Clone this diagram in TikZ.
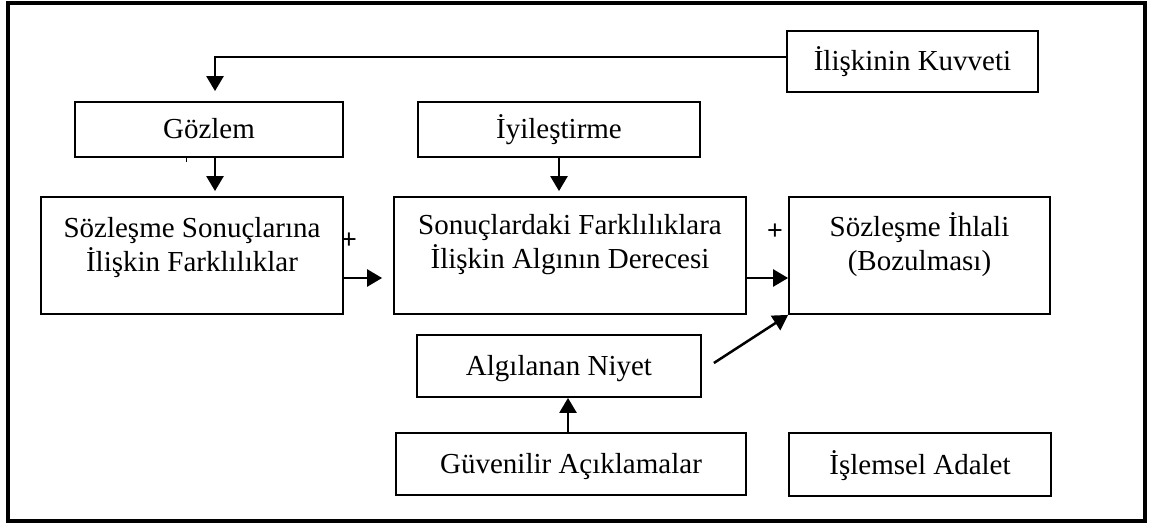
\documentclass[tikz,border=0pt]{standalone}
\usepackage{fontspec}
\setmainfont{Liberation Serif}
\newfontfamily\plusfont{Liberation Sans}
\usetikzlibrary{arrows.meta,calc}

\tikzset{
  box/.style={draw, line width=1.8pt, inner sep=0pt, align=center,
    font=\fontsize{29}{34}\selectfont, text height=25pt, text depth=6pt},
  lbl/.style={inner sep=0pt, align=center, font=\fontsize{29}{34}\selectfont},
  plus/.style={inner sep=0pt, font=\plusfont\fontsize{27}{27}\selectfont},
  arr/.style={-{Triangle[length=15pt,width=17pt]}, line width=2.5pt},
  frame/.style={draw, line width=3.5pt}
}

\begin{document}
\begin{tikzpicture}[x=1pt,y=-1pt]
\useasboundingbox (0,0) rectangle (1150,524);

% outer frame
\draw[frame] (8,3) rectangle (1145,521);

% one-line boxes
\node[box, minimum width=251pt, minimum height=61pt] (kuvvet) at (912.5,61.5) {İlişkinin Kuvveti};
\node[box, minimum width=268pt, minimum height=55pt] (gozlem) at (209,129.5) {Gözlem};
\node[box, minimum width=282pt, minimum height=55pt] (iyil) at (559,129.5) {İyileştirme};
\node[box, minimum width=284pt, minimum height=62pt] (niyet) at (559,366) {Algılanan Niyet};
\node[box, minimum width=350pt, minimum height=62pt] (guven) at (571,464) {Güvenilir Açıklamalar};
\node[box, minimum width=262pt, minimum height=63pt] (islem) at (920,464.5) {İşlemsel Adalet};

% two-line boxes, text set in the upper part
\node[box, minimum width=302pt, minimum height=117pt] (sonuc) at (192,255.5) {};
\node[box, minimum width=352pt, minimum height=117pt] (algi) at (570,255.5) {};
\node[box, minimum width=261pt, minimum height=117pt] (ihlal) at (919.5,255.5) {};
\node[lbl] (sonucT) at (192,248) {Sözleşme Sonuçlarına\\İlişkin Farklılıklar};
\node[lbl] (algiT) at (570,245) {Sonuçlardaki Farklılıklara\\İlişkin Algının Derecesi};
\node[lbl] (ihlalT) at (919.5,245) {Sözleşme İhlali\\(Bozulması)};

% signs
\node[plus] (p1) at (349,241) {+};
\node[plus] (p2) at (775,232) {+};

% connectors
\draw[arr] ($(kuvvet.west)+(0,-4.5)$) -| ($(gozlem.north)+(6,-10)$);
\draw[arr] ($(gozlem.south)+(6,0)$) -- ($(sonuc.north -| gozlem.south)+(6,-5)$);
\draw[arr] (iyil.south) -- ($(iyil.south |- algi.north)+(0,-5)$);
\draw[arr] ($(sonuc.east)+(0,22.5)$) -- ($(algi.west)+(-11,22.5)$);
\draw[arr] ($(algi.east)+(0,22.5)$) -- ($(ihlal.west)+(0,22.5)$);
\draw[arr] ($(niyet.east)+(12,-3)$) -- (ihlal.south west);
\draw[arr] ($(guven.north)+(-3,0)$) -- ($(niyet.south -| guven.north)+(-3,0)$);

% small tick under the observation box
\draw[line width=0.8pt] ($(gozlem.south)+(-23,0)$) -- ++(0,4);
\end{tikzpicture}
\end{document}
